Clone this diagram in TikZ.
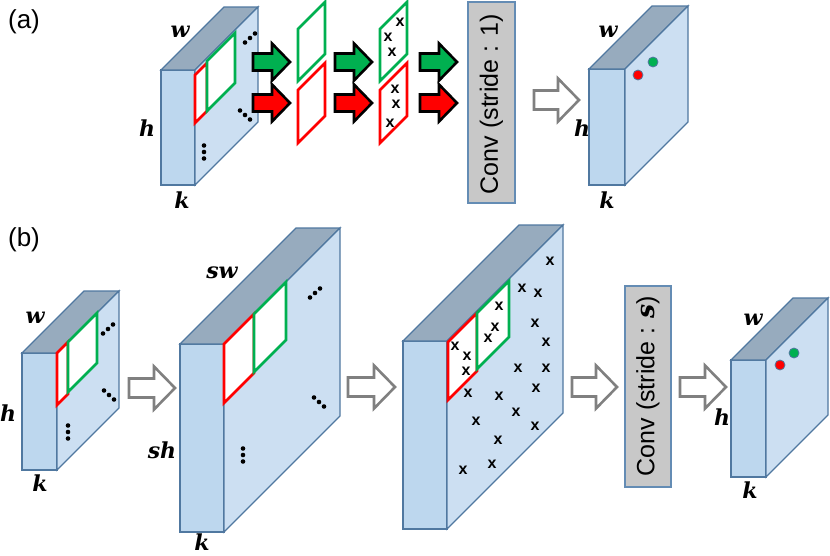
\documentclass[tikz,border=0pt]{standalone}
\usepackage{amsmath}
\usepackage{fontspec}
\newfontfamily\arialf{Liberation Sans}
\newfontfamily\labf{DejaVu Serif}
\definecolor{frontc}{RGB}{189,215,238}
\definecolor{sidec}{RGB}{204,223,242}
\definecolor{topc}{RGB}{151,171,190}
\definecolor{edgec}{RGB}{80,120,160}
\definecolor{convc}{RGB}{200,200,200}
\definecolor{convedge}{RGB}{100,140,180}
\definecolor{mygreen}{RGB}{0,176,80}
\definecolor{myred}{RGB}{255,0,0}
\definecolor{hollowc}{RGB}{128,128,128}
\tikzset{
  face/.style={draw=edgec, line width=1.3pt, line join=miter},
  gwin/.style={draw=mygreen, line width=2.8pt, fill=white, line join=miter},
  rwin/.style={draw=myred, line width=2.8pt, fill=white, line join=miter},
  fatarr/.style={draw=black, line width=2.6pt, line join=miter},
  hollow/.style={draw=hollowc, line width=2.6pt, fill=white, line join=miter},
  convbox/.style={draw=convedge, line width=1.3pt, fill=convc},
  dimlab/.style={font=\labf\bfseries\itshape\fontsize{22}{26}\selectfont, inner sep=0pt},
  panellab/.style={font=\arialf\fontsize{26}{30}\selectfont, inner sep=0pt},
  convtxt/.style={font=\arialf\fontsize{25}{28}\selectfont, rotate=90, inner sep=0pt},
  xmark/.style={font=\arialf\bfseries\fontsize{16}{16}\selectfont, inner sep=0pt},
  blackdot/.style={fill=black},
}
% cuboid: name, x, y (front top-left), width, height, depth
\newcommand\mycuboid[6]{%
  \draw[face, fill=frontc] (#2,#3) rectangle (#2+#4,#3+#5);
  \draw[face, fill=topc] (#2,#3) -- (#2+#6,#3-#6) -- (#2+#4+#6,#3-#6) -- (#2+#4,#3) -- cycle;
  \draw[face, fill=sidec] (#2+#4,#3) -- (#2+#4+#6,#3-#6) -- (#2+#4+#6,#3+#5-#6) -- (#2+#4,#3+#5) -- cycle;
  \coordinate (#1) at (#2,#3);
}
% window: style, x, y (left top), width, height
\newcommand\mywin[5]{%
  \draw[#1] (#2,#3) -- (#2+#4,#3-#4) -- (#2+#4,#3-#4+#5) -- (#2,#3+#5) -- cycle;
}
% fat arrow: fill, x0, yc
\newcommand\myfat[3]{%
  \draw[fatarr, fill=#1] (#2,#3-8.5) -- (#2+19,#3-8.5) -- (#2+19,#3-18.5) -- (#2+37,#3)
    -- (#2+19,#3+18.5) -- (#2+19,#3+8.5) -- (#2,#3+8.5) -- cycle;
}
% hollow arrow: x0, x1, yc
\newcommand\myhollow[3]{%
  \draw[hollow] (#1,#3-9.5) -- (#2-21,#3-9.5) -- (#2-21,#3-21.5) -- (#2,#3)
    -- (#2-21,#3+21.5) -- (#2-21,#3+9.5) -- (#1,#3+9.5) -- cycle;
}
\newcommand\dotsur[2]{\foreach \k in {-1,0,1}{\fill[blackdot] (#1+5*\k,#2-4.5*\k) circle[radius=2.3pt];}}
\newcommand\dotsdr[2]{\foreach \k in {-1,0,1}{\fill[blackdot] (#1+5*\k,#2+4.5*\k) circle[radius=2.3pt];}}
\newcommand\dotsvt[2]{\foreach \k in {-1,0,1}{\fill[blackdot] (#1,#2+6.5*\k) circle[radius=2.3pt];}}
\begin{document}
\begin{tikzpicture}[x=1pt,y=-1pt]
\useasboundingbox (0,0) rectangle (830,555);
\fill[white] (0,0) rectangle (830,555);

% ---------------- (a) ----------------
\node[panellab] (la) at (24,22) {(a)};

\mycuboid{a1}{161}{70}{34}{115}{63}
\mywin{rwin}{195}{75}{12}{48}
\mywin{gwin}{207}{61}{28}{50}
\dotsur{250}{38}
\dotsdr{245}{115}
\dotsvt{204}{152}
\node[dimlab] (a1w) at (180,32) {w};
\node[dimlab] (a1h) at (147,128) {h};
\node[dimlab] (a1k) at (182,200) {k};

\myfat{mygreen}{253}{62}
\myfat{myred}{253}{103}
\mywin{gwin}{298}{29}{27}{52}
\mywin{rwin}{298}{90}{27}{53}
\myfat{mygreen}{335}{62}
\myfat{myred}{335}{103}
\mywin{gwin}{380}{29}{27}{52}
\mywin{rwin}{380}{90}{27}{53}
\node[xmark] (xa1) at (400,22) {x};
\node[xmark] (xa2) at (388,37) {x};
\node[xmark] (xa3) at (392,52) {x};
\node[xmark] (xa4) at (395,89) {x};
\node[xmark] (xa5) at (396,104) {x};
\node[xmark] (xa6) at (390,123) {x};
\myfat{mygreen}{420}{62}
\myfat{myred}{420}{103}

\draw[convbox] (468,2) rectangle (515,203);
\node[convtxt] (conva) at (491.5,104) {Conv (stride : 1)};

\myhollow{534}{579}{100}

\mycuboid{a2}{589}{69}{36}{116}{63}
\fill[myred, draw=edgec, line width=0.8pt] (638,75) circle[radius=5pt];
\fill[mygreen, draw=edgec, line width=0.8pt] (653,62) circle[radius=5pt];
\node[dimlab] (a2w) at (608,32) {w};
\node[dimlab] (a2h) at (582,128) {h};
\node[dimlab] (a2k) at (607,200) {k};

% ---------------- (b) ----------------
\node[panellab] (lb) at (24,240) {(b)};

\mycuboid{b1}{22}{353}{35}{117}{62}
\mywin{rwin}{57}{353}{11}{52}
\mywin{gwin}{68}{342}{29}{50}
\dotsur{108}{329}
\dotsdr{109}{395}
\dotsvt{68}{432}
\node[dimlab] (b1w) at (35,318) {w};
\node[dimlab] (b1h) at (8,413) {h};
\node[dimlab] (b1k) at (40,483) {k};

\myhollow{129}{175}{388}

\mycuboid{b2}{180}{344}{44}{188}{116}
\mywin{rwin}{224}{344}{30}{59}
\mywin{gwin}{254}{314}{32}{58}
\dotsur{315}{293}
\dotsdr{319}{402}
\dotsvt{243}{455}
\node[dimlab] (b2w) at (222,273) {sw};
\node[dimlab] (b2h) at (162,450) {sh};
\node[dimlab] (b2k) at (202,542) {k};

\myhollow{348}{395}{387}

\mycuboid{b3}{403}{341}{44}{188}{116}
\mywin{rwin}{448}{342}{29}{58}
\mywin{gwin}{477}{313}{32}{56}
\foreach \px/\py [count=\i] in {455/346,467/356,466/371,499/306,495/327,488/338,
   550/261,522/288,538/293,535/323,546/342,518/368,546/368,536/388,468/393,499/396,
   516/412,476/421,535/426,498/440,492/464,463/470}{
  \node[xmark] (xb\i) at (\px,\py) {x};
}

\myhollow{572}{617}{387}

\draw[convbox] (625,286) rectangle (671,487);
\node[convtxt] (convb) at (648,386) {Conv (stride : {\labf\bfseries\itshape s})};

\myhollow{680}{726}{387}

\mycuboid{b4}{731}{360}{35}{117}{62}
\fill[myred, draw=edgec, line width=0.8pt] (780,365) circle[radius=5pt];
\fill[mygreen, draw=edgec, line width=0.8pt] (794,353) circle[radius=5pt];
\node[dimlab] (b4w) at (753,320) {w};
\node[dimlab] (b4h) at (722,417) {h};
\node[dimlab] (b4k) at (750,490) {k};
\end{tikzpicture}
\end{document}
